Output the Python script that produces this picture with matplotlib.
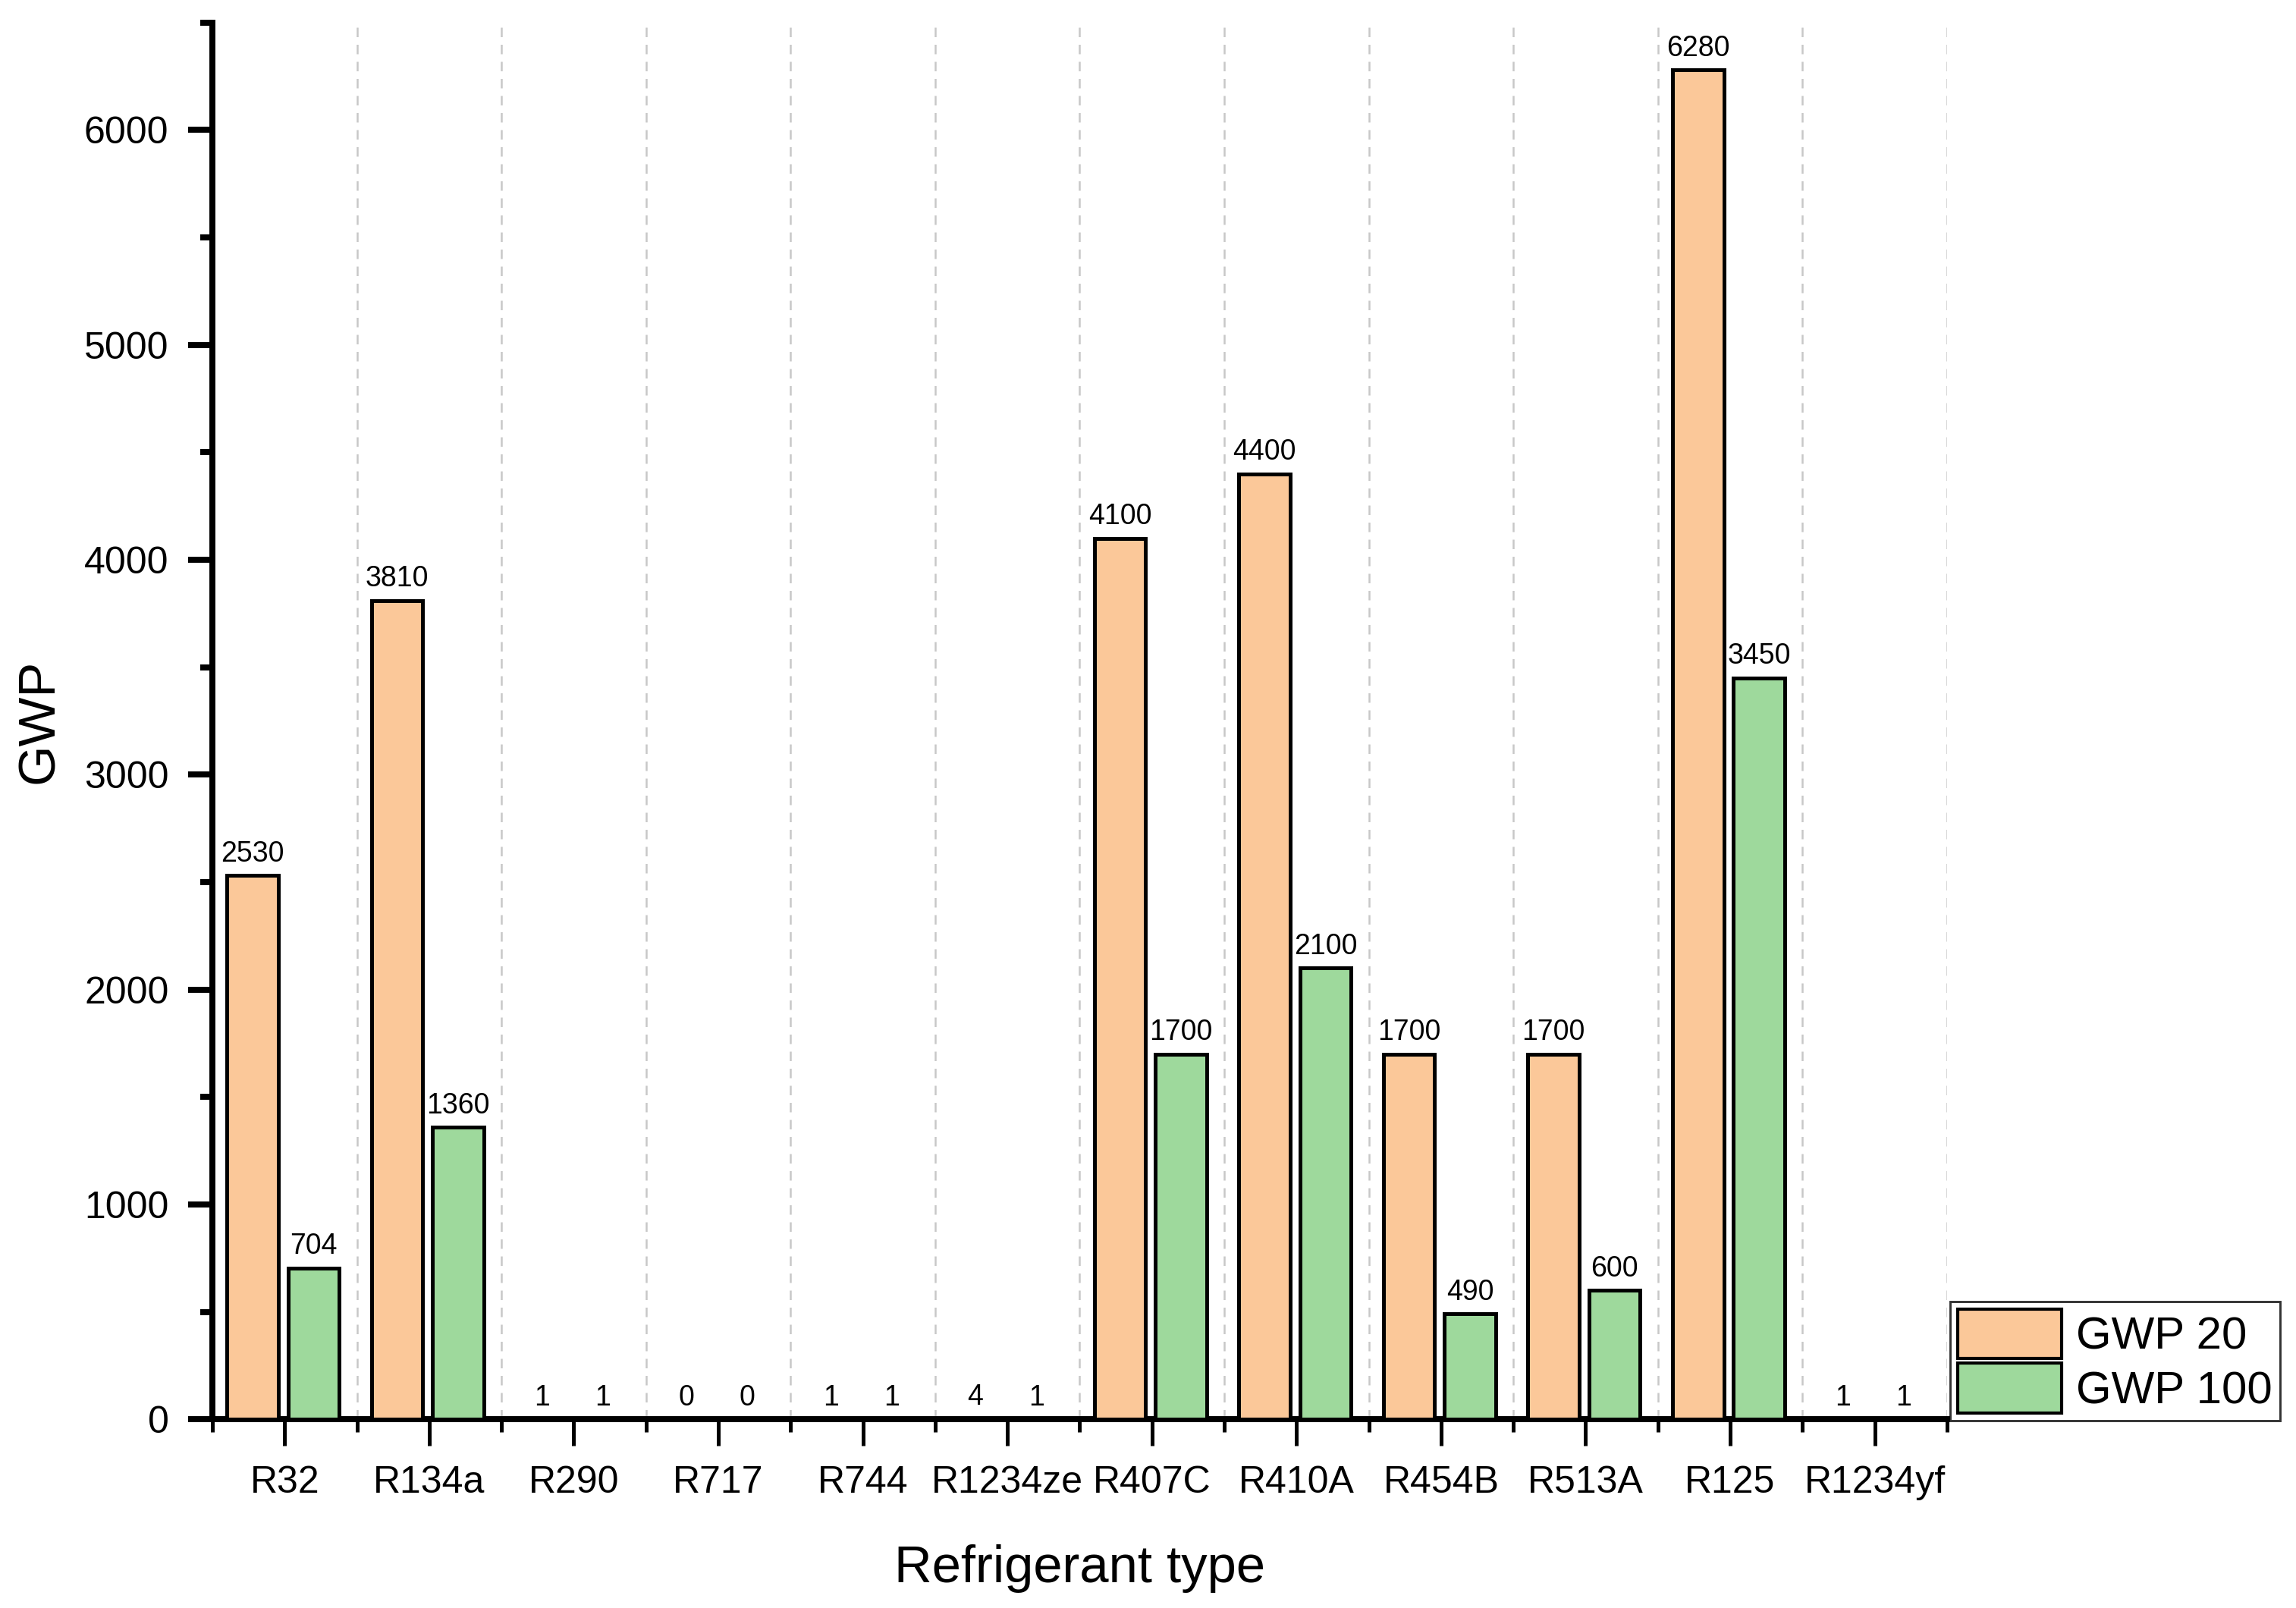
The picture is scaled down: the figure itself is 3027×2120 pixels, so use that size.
import matplotlib
matplotlib.use("Agg")
import matplotlib.pyplot as plt
import numpy as np
from matplotlib.ticker import MultipleLocator

categories = ["R32", "R134a", "R290", "R717", "R744", "R1234ze", "R407C",
              "R410A", "R454B", "R513A", "R125", "R1234yf"]
gwp20 = [2530, 3810, 1, 0, 1, 4, 4100, 4400, 1700, 1700, 6280, 1]
gwp100 = [704, 1360, 1, 0, 1, 1, 1700, 2100, 490, 600, 3450, 1]

plt.rcParams['font.family'] = ['Liberation Sans', 'DejaVu Sans']

fig = plt.figure(figsize=(3027/300, 2120/300), dpi=300)
ax = fig.add_axes([0.0925, 0.1173, 0.848 - 0.0925, 0.986 - 0.1173])

x = np.arange(len(categories))
w = 0.355
b1 = ax.bar(x - 0.222, gwp20, width=w, color="#FBC899", edgecolor="black",
            linewidth=1.2, label="GWP 20", zorder=3)
b2 = ax.bar(x + 0.2, gwp100, width=w, color="#9ED99C", edgecolor="black",
            linewidth=1.2, label="GWP 100", zorder=3)
ax.bar_label(b1, labels=[str(v) for v in gwp20], padding=2.5, fontsize=9)
ax.bar_label(b2, labels=[str(v) for v in gwp100], padding=2.5, fontsize=9)

ax.set_xlim(-0.5, len(categories) - 0.5)
ax.set_ylim(0, 6500)
ax.set_xticks(x)
ax.set_xticklabels(categories, fontsize=12)
ax.xaxis.set_minor_locator(MultipleLocator(1, offset=0.5))
ax.yaxis.set_major_locator(MultipleLocator(1000))
ax.yaxis.set_minor_locator(MultipleLocator(500))
ax.tick_params(axis='y', labelsize=12)

for s in ["top", "right"]:
    ax.spines[s].set_visible(False)
for s in ["left", "bottom"]:
    ax.spines[s].set_linewidth(1.9)

ax.tick_params(axis='x', which='major', length=8.5, width=1.2, pad=6, direction='out')
ax.tick_params(axis='x', which='minor', length=4, width=1.2, direction='out')
ax.tick_params(axis='y', which='major', length=7.8, width=1.9, pad=6, direction='out')
ax.tick_params(axis='y', which='minor', length=3.8, width=1.9, direction='out')

ax.grid(True, axis='x', which='minor', color="#c8c8c8", linestyle=(0, (5, 4)),
        linewidth=0.6, zorder=0)
ax.grid(False, axis='x', which='major')

ax.set_xlabel("Refrigerant type", fontsize=16.5, labelpad=14)
ax.set_ylabel("GWP", fontsize=16.5, labelpad=6.5)

leg = fig.legend(handles=[b1, b2], loc="lower left",
                 bbox_to_anchor=(0.8494, 0.1165), fontsize=14.4,
                 frameon=True, fancybox=False, edgecolor="black",
                 handlelength=2.27, handleheight=1.3, labelspacing=0.1,
                 borderpad=0.17, handletextpad=0.32, borderaxespad=0)
leg.get_frame().set_linewidth(0.7)
for p in leg.get_patches():
    p.set_linewidth(1.0)

fig.savefig("out.png", dpi=300, facecolor="white")
